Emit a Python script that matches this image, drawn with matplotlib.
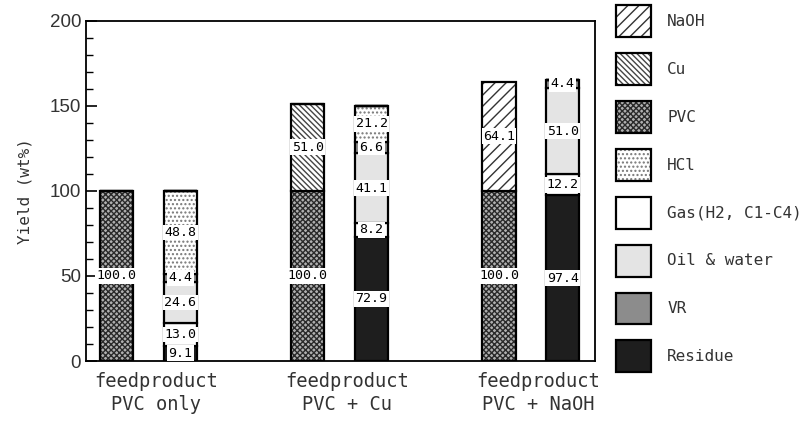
import numpy as np
import matplotlib
matplotlib.use('Agg')
from matplotlib import pyplot as plt
from matplotlib.legend_handler import HandlerTuple

# bar positions: feed / product for each run
runs = ['PVC only', 'PVC + Cu', 'PVC + NaOH']
bar_x = [0, 1, 3, 4, 6, 7]

# stacked components, bottom to top (one value per bar)
components = ['Residue', 'Gas(H2,C1-C4)', 'Oil & water', 'VR', 'HCl', 'PVC', 'Cu', 'NaOH']
residue = [0, 9.1, 0, 72.9, 0, 97.4]
gas = [0, 13.0, 0, 8.2, 0, 12.2]
oil_water = [0, 24.6, 0, 41.1, 0, 51.0]
vr = [0, 4.4, 0, 6.6, 0, 4.4]
hcl = [0, 48.8, 0, 21.2, 0, 0]
pvc = [100.0, 0, 100.0, 0, 100.0, 0]
cu = [0, 0, 51.0, 0, 0, 0]
naoh = [0, 0, 0, 0, 64.1, 0]

legend_order = ['NaOH', 'Cu', 'PVC', 'HCl', 'Gas(H2,C1-C4)', 'Oil & water', 'VR', 'Residue']
legend_labels = ['NaOH', 'Cu', 'PVC', 'HCl', 'Gas(H2, C1-C4)', 'Oil & water', 'VR', 'Residue']

# facecolor, hatch, hatch colour
styles = {
    'Residue': ('#1e1e1e', None, 'none'),
    'Gas(H2,C1-C4)': ('white', None, 'none'),
    'Oil & water': ('#e4e4e4', None, 'none'),
    'VR': ('#8c8c8c', None, 'none'),
    'HCl': ('white', '....', '#777777'),
    'PVC': ('#b0b0b0', 'xxxxxx', '#2a2a2a'),
    'Cu': ('white', '\\\\\\\\\\\\', '#444444'),
    'NaOH': ('white', '///', '#333333'),
}

mono = 'DejaVu Sans Mono'
plt.rcParams['hatch.linewidth'] = 1.0

fig = plt.figure(figsize=(8.11, 4.21), dpi=100)
ax = fig.add_axes([0.106, 0.1425, 0.628, 0.8085])

series = [residue, gas, oil_water, vr, hcl, pvc, cu, naoh]
bottom = np.zeros(len(bar_x))
handles = {}
for name, vals in zip(components, series):
    vals = np.array(vals, dtype=float)
    fc, hatch, hc = styles[name]
    fill = ax.bar(bar_x, vals, width=0.52, bottom=bottom, facecolor=fc,
                  hatch=hatch, edgecolor=hc, linewidth=0)
    edge = ax.bar(bar_x, vals, width=0.52, bottom=bottom, facecolor='none',
                  edgecolor='black', linewidth=1.6)
    handles[name] = (fill[0], edge[0])
    for xx, b, v in zip(bar_x, bottom, vals):
        if v > 0:
            ax.text(xx, b + v / 2, '%.1f' % v, ha='center', va='center',
                    fontsize=9.5, family=mono, zorder=5,
                    bbox=dict(facecolor='white', edgecolor='none', pad=1.0))
    bottom = bottom + vals

ax.set_xlim(-0.48, 7.51)
ax.set_ylim(0, 200)
ax.set_yticks(np.arange(0, 201, 50))
ax.set_yticks(np.arange(0, 201, 10), minor=True)
ax.tick_params(axis='y', which='major', direction='in', length=8, width=1.2,
               labelsize=13.5, right=False)
ax.tick_params(axis='y', which='minor', direction='in', length=5, width=1.0, right=False)
for lab in ax.get_yticklabels():
    lab.set_family('Liberation Sans')
    lab.set_color('#333333')

ax.set_xticks([0.62, 3.62, 6.62])
ax.set_xticklabels(['feedproduct\n' + r for r in runs], family=mono, fontsize=13.5,
                   color='#333333', linespacing=1.25)
ax.tick_params(axis='x', length=0, pad=8)

ax.set_ylabel('Yield (wt%)', family=mono, fontsize=11.5, color='#333333', labelpad=12)
for sp in ax.spines.values():
    sp.set_linewidth(1.3)

leg = fig.legend([handles[n] for n in legend_order], legend_labels,
                 handler_map={tuple: HandlerTuple(ndivide=1)},
                 loc='upper left', bbox_to_anchor=(616 / 811, 1 - 5 / 421),
                 frameon=False, prop=dict(family=mono, size=11.5),
                 handlelength=2.2, handleheight=2.7, labelspacing=1.0,
                 handletextpad=1.0, borderpad=0, borderaxespad=0)
for t in leg.get_texts():
    t.set_color('#333333')

fig.savefig('out.png', dpi=100)
